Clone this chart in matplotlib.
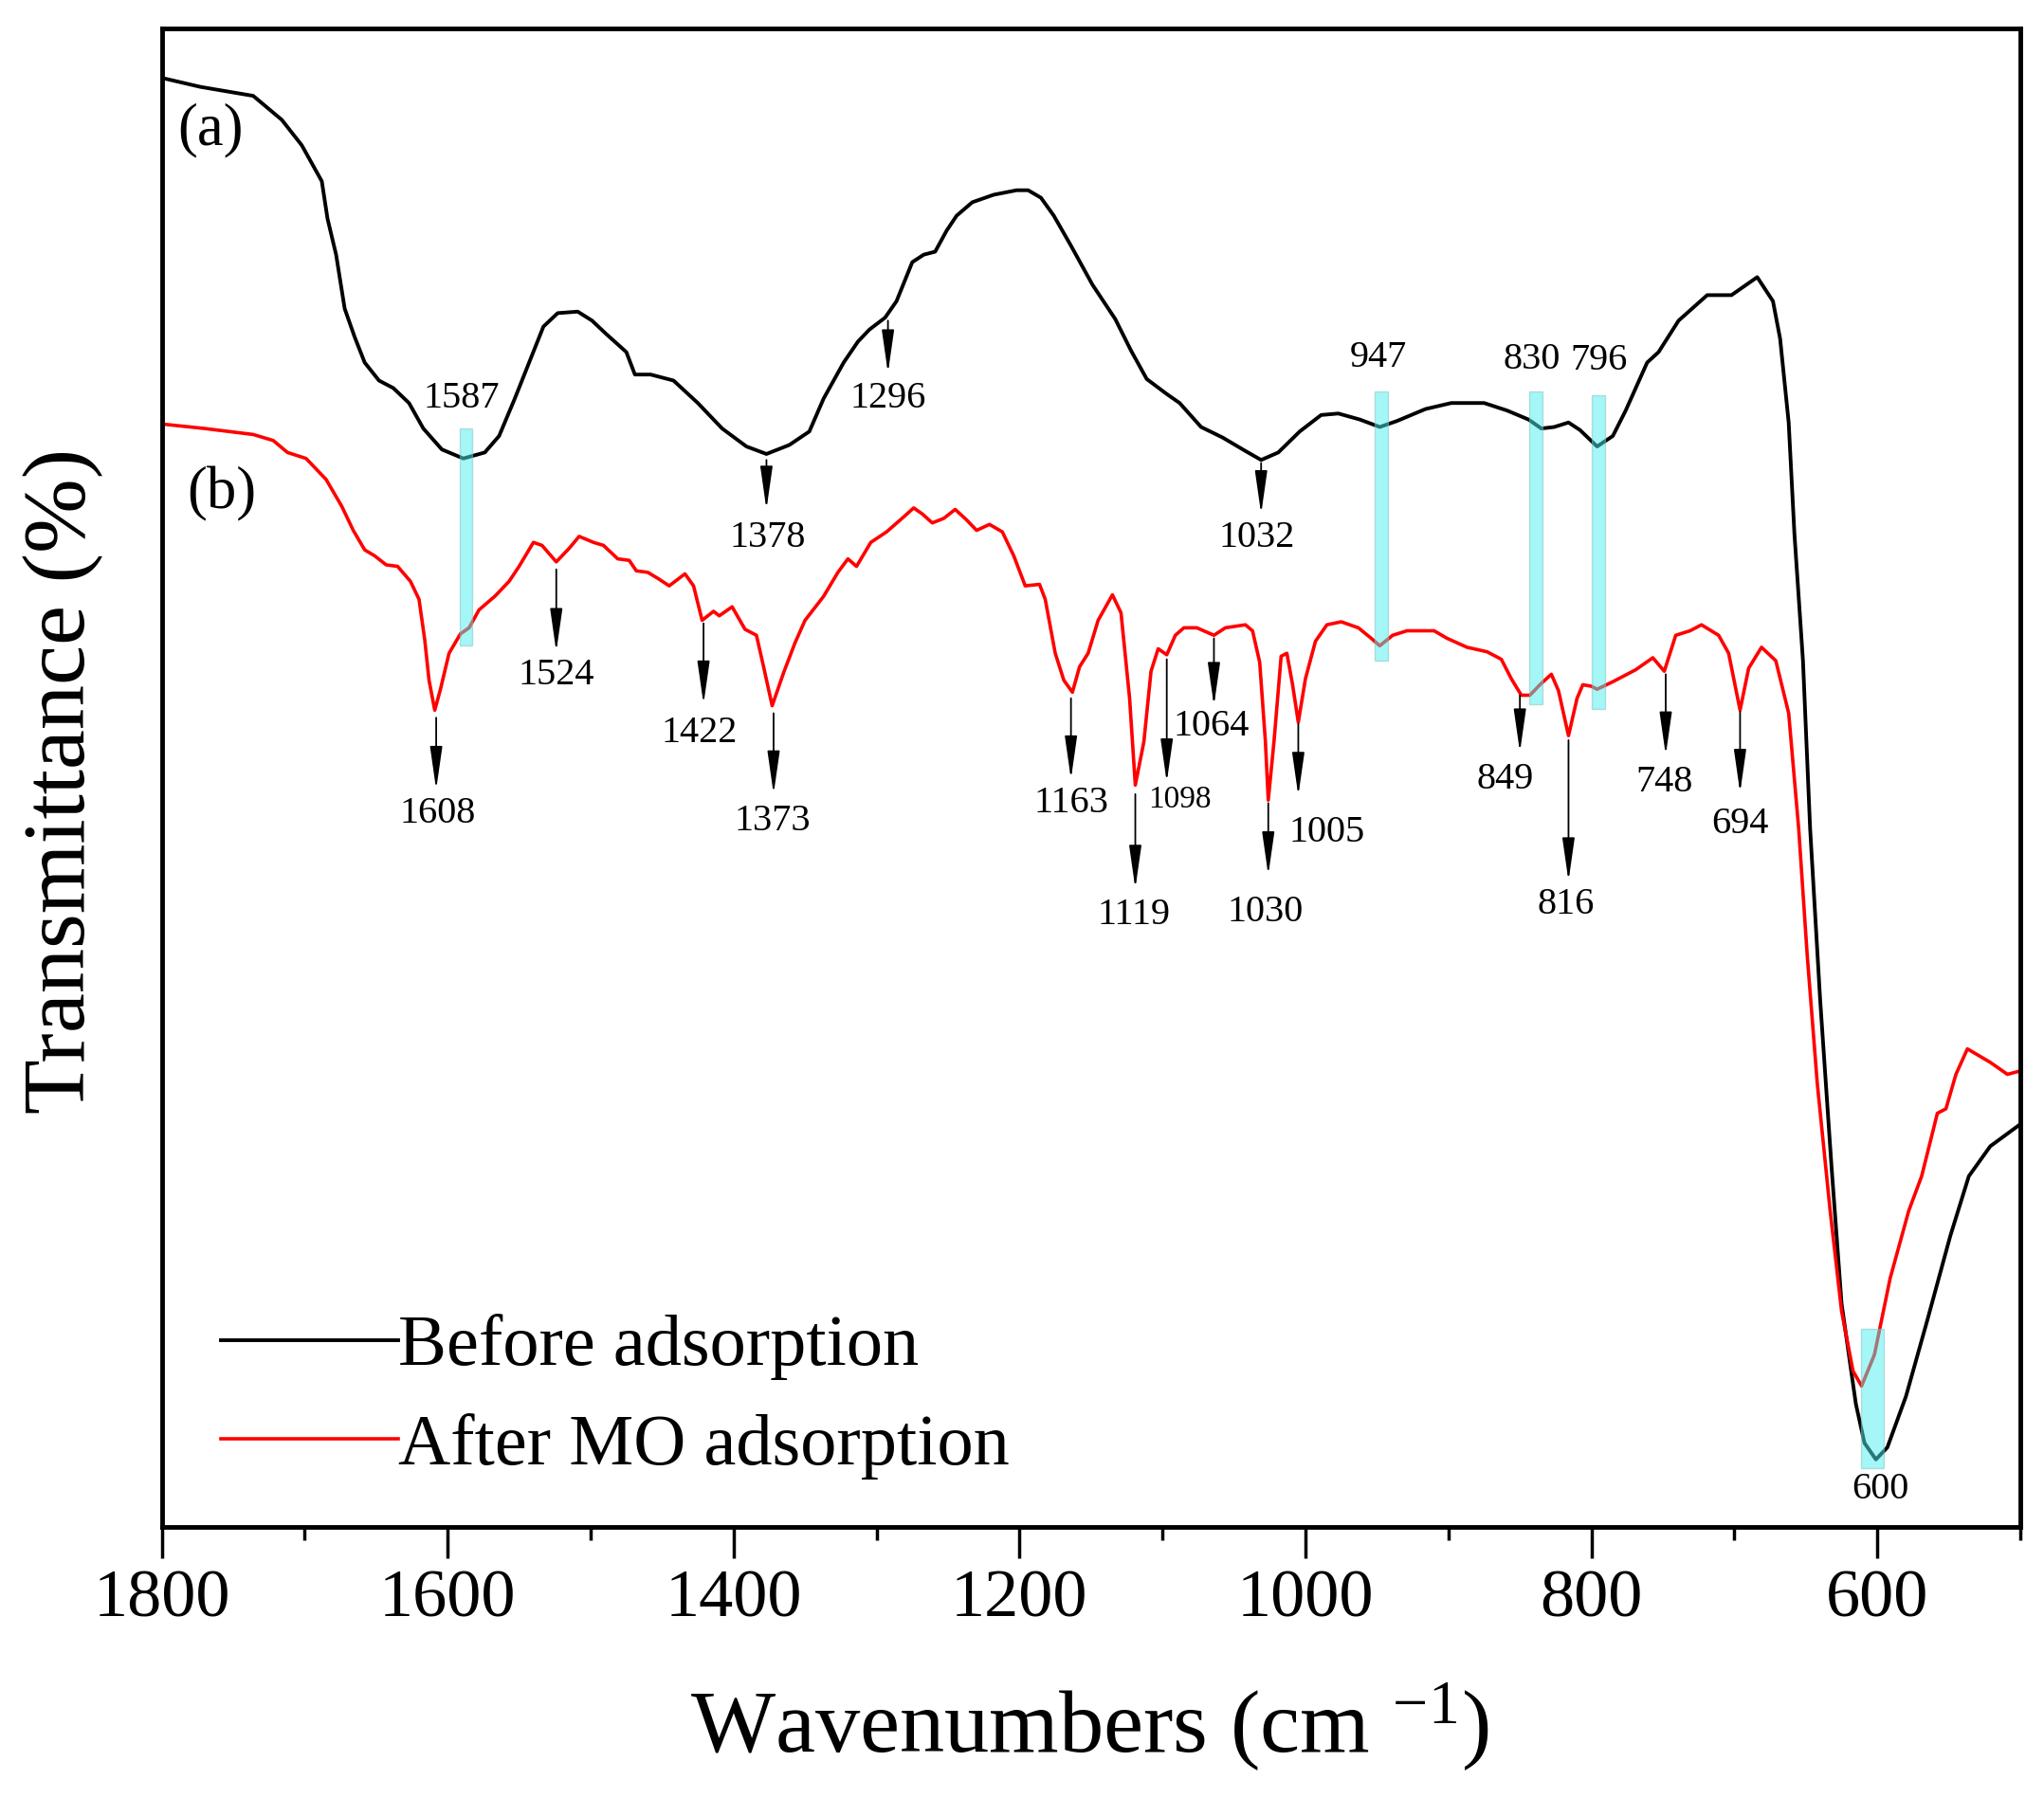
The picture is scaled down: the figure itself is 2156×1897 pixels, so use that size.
import matplotlib
matplotlib.use('Agg')
import matplotlib.pyplot as plt

plt.rcParams['font.family'] = 'Liberation Serif'
plt.rcParams['mathtext.fontset'] = 'custom'
plt.rcParams['mathtext.rm'] = 'Liberation Serif'
plt.rcParams['mathtext.it'] = 'Liberation Serif:italic'

# (a) before adsorption
wn_a = [1800, 1773, 1736, 1716, 1702, 1688, 1684, 1678, 1672, 1665, 1658, 1648, 1638, 1627, 1617, 1604,
        1589, 1574, 1564, 1553, 1543, 1533, 1523, 1509, 1499, 1489, 1475, 1469, 1458, 1442, 1425, 1408,
        1391, 1377, 1361, 1347, 1337, 1323, 1313, 1305, 1294, 1286, 1275, 1267, 1259, 1251, 1244, 1233,
        1218, 1202, 1194, 1185, 1176, 1164, 1149, 1133, 1122, 1111, 1097, 1088, 1073, 1058, 1042, 1031,
        1019, 1004, 989, 977, 962, 948, 936, 916, 898, 875, 859, 844, 835, 826, 816, 808, 796, 785, 776,
        761, 753, 739, 719, 702, 684, 673, 668, 662, 658, 652, 647, 640, 632, 625, 615, 609, 601, 593,
        580, 565, 549, 536, 521, 501]
t_a = [96.7, 96.1, 95.5, 93.9, 92.2, 89.8, 87.3, 84.9, 81.3, 79.4, 77.7, 76.5, 76.0, 75.0, 73.3, 71.9,
       71.3, 71.7, 72.8, 75.3, 77.7, 80.1, 81.0, 81.1, 80.5, 79.6, 78.4, 76.9, 76.9, 76.5, 75.0, 73.3,
       72.1, 71.6, 72.2, 73.1, 75.3, 77.7, 79.1, 79.9, 80.7, 81.8, 84.4, 84.9, 85.1, 86.5, 87.5, 88.4,
       88.9, 89.2, 89.2, 88.7, 87.5, 85.5, 82.9, 80.6, 78.5, 76.6, 75.6, 75.0, 73.4, 72.7, 71.8, 71.2,
       71.7, 73.1, 74.2, 74.3, 73.9, 73.4, 73.8, 74.6, 75.0, 75.0, 74.5, 73.9, 73.3, 73.4, 73.7, 73.2,
       72.1, 72.8, 74.5, 77.7, 78.4, 80.5, 82.2, 82.2, 83.4, 81.8, 79.3, 73.7, 66.3, 57.8, 46.6, 35.2,
       24.0, 14.9, 8.2, 5.6, 4.5, 5.3, 8.7, 13.8, 19.4, 23.4, 25.4, 26.8]

# (b) after MO adsorption
wn_b = [1800, 1770, 1753, 1736, 1722, 1712, 1699, 1685, 1674, 1666, 1658, 1651, 1643, 1635, 1626, 1620,
        1616, 1613, 1609, 1605, 1599, 1591, 1585, 1578, 1567, 1557, 1550, 1540, 1534, 1524, 1515, 1508,
        1498, 1491, 1481, 1473, 1468, 1460, 1453, 1445, 1434, 1428, 1422, 1414, 1410, 1401, 1392, 1384,
        1379, 1373, 1365, 1357, 1350, 1337, 1327, 1320, 1314, 1304, 1293, 1281, 1274, 1268, 1261, 1253,
        1245, 1237, 1230, 1221, 1212, 1204, 1196, 1186, 1182, 1175, 1169, 1163, 1158, 1152, 1145, 1135,
        1129, 1123, 1119, 1113, 1108, 1103, 1097, 1091, 1085, 1076, 1064, 1056, 1042, 1037, 1032, 1028,
        1026, 1022, 1017, 1013, 1009, 1005, 1000, 993, 985, 975, 963, 954, 948, 939, 929, 910, 901, 887,
        873, 863, 856, 849, 843, 836, 828, 823, 816, 810, 806, 800, 796, 785, 769, 757, 749, 741, 731,
        723, 711, 704, 696, 690, 681, 671, 662, 655, 649, 642, 633, 625, 617, 611, 602, 591, 578, 569,
        558, 552, 545, 537, 521, 509, 501]
t_b = [73.6, 73.3, 73.1, 72.9, 72.5, 71.7, 71.3, 69.9, 68.1, 66.5, 65.2, 64.8, 64.2, 64.1, 63.1, 61.9,
       59.2, 56.5, 54.5, 55.9, 58.3, 59.6, 60.0, 61.2, 62.1, 63.1, 64.1, 65.7, 65.5, 64.4, 65.3, 66.1,
       65.7, 65.5, 64.6, 64.5, 63.8, 63.7, 63.3, 62.8, 63.6, 62.8, 60.5, 61.1, 60.8, 61.4, 59.9, 59.5,
       57.4, 54.8, 57.0, 59.0, 60.5, 62.1, 63.7, 64.6, 64.1, 65.7, 66.4, 67.4, 68.0, 67.6, 67.0, 67.3,
       67.9, 67.2, 66.5, 66.9, 66.4, 64.8, 62.8, 62.9, 61.9, 58.3, 56.5, 55.7, 57.4, 58.3, 60.5, 62.2,
       61.0, 55.3, 49.5, 52.4, 57.1, 58.6, 58.2, 59.5, 60.0, 60.0, 59.5, 60.0, 60.2, 59.8, 57.7, 52.4,
       48.5, 52.4, 58.1, 58.3, 56.2, 53.7, 56.6, 59.1, 60.2, 60.4, 60.0, 59.3, 58.8, 59.5, 59.8, 59.8,
       59.3, 58.7, 58.4, 57.9, 56.6, 55.5, 55.5, 56.2, 56.9, 55.8, 52.8, 55.3, 56.2, 56.1, 55.9, 56.4,
       57.2, 58.0, 57.1, 59.5, 59.8, 60.2, 59.5, 58.3, 54.5, 57.3, 58.7, 57.8, 54.3, 46.6, 38.1, 29.6,
       21.1, 14.4, 10.4, 9.4, 11.5, 16.6, 21.1, 23.4, 27.6, 27.9, 30.2, 31.9, 31.0, 30.2, 30.4]

# peak arrows: label, arrow x, arrow start, arrow tip, label x, label y
peaks_a = ['1378', '1296', '1032']
arr_a_x = [1377, 1292, 1031]
arr_a_from = [71.2, 80.5, 71.0]
arr_a_to = [67.9, 77.0, 67.6]
lab_a_x = [1376, 1292, 1034]
lab_a_y = [66.0, 75.3, 66.0]

peaks_b = ['1608', '1524', '1422', '1373', '1163', '1119', '1098', '1064', '1030', '1005',
           '849', '816', '748', '694']
arr_b_x = [1608, 1524, 1421, 1372, 1164, 1119, 1097, 1064, 1026, 1005, 850, 816, 748, 696]
arr_b_from = [54.0, 63.9, 60.3, 54.3, 55.3, 48.9, 57.9, 59.3, 48.3, 53.6, 55.5, 52.5, 56.9, 54.4]
arr_b_to = [49.2, 58.4, 54.9, 48.9, 49.9, 42.6, 49.7, 54.8, 43.5, 48.8, 51.7, 43.1, 51.5, 49.0]
lab_b_x = [1607, 1524, 1424, 1373, 1164, 1120, 1088, 1066, 1028, 985, 860, 818, 749, 696]
lab_b_y = [47.6, 56.8, 53.0, 47.1, 48.3, 40.8, 48.5, 53.4, 41.0, 46.3, 49.9, 41.5, 49.7, 46.9]

# highlighted bands (shared peaks)
band_names = ['1587', '947', '830', '796', '600']
band_hi = [1591.4, 951.5, 843.4, 799.7, 611.3]
band_lo = [1582.8, 942.2, 834.2, 790.4, 595.4]
band_bot = [58.8, 57.8, 54.9, 54.6, 3.9]
band_top = [73.3, 75.8, 75.8, 75.5, 13.2]
band_lab_x = [1590, 949, 842, 795, 598]
band_lab_y = [75.3, 78.0, 77.9, 77.8, 2.5]

fig = plt.figure(figsize=(21.56, 18.97), dpi=100)
ax = fig.add_axes([0.0791, 0.1508, 0.9093, 0.8334])

ax.plot(wn_a, t_a, color='black', lw=2.8, solid_joinstyle='round', label='Before adsorption')
ax.plot(wn_b, t_b, color='red', lw=2.6, solid_joinstyle='round', label='After MO adsorption')

for i in range(len(band_names)):
    ax.bar((band_hi[i] + band_lo[i]) / 2, band_top[i] - band_bot[i], width=band_hi[i] - band_lo[i],
           bottom=band_bot[i], color='#4cf0f0', alpha=0.5, edgecolor='#80c0c0', linewidth=1, zorder=3)
    ax.text(band_lab_x[i], band_lab_y[i], band_names[i], ha='center', va='center', fontsize=29)

arrow_style = dict(arrowstyle='-|>,head_length=1.4,head_width=0.2', color='black', lw=1.3,
                   shrinkA=0, shrinkB=0, mutation_scale=20)
for i in range(len(peaks_a)):
    ax.annotate('', xy=(arr_a_x[i], arr_a_to[i]), xytext=(arr_a_x[i], arr_a_from[i]), arrowprops=arrow_style)
    ax.text(lab_a_x[i], lab_a_y[i], peaks_a[i], ha='center', va='center', fontsize=29)
for i in range(len(peaks_b)):
    ax.annotate('', xy=(arr_b_x[i], arr_b_to[i]), xytext=(arr_b_x[i], arr_b_from[i]), arrowprops=arrow_style)
    fs = 24 if peaks_b[i] == '1098' else 29
    ax.text(lab_b_x[i], lab_b_y[i], peaks_b[i], ha='center', va='center', fontsize=fs)

ax.text(1766, 93.2, '(a)', ha='center', va='center', fontsize=45)
ax.text(1758, 68.9, '(b)', ha='center', va='center', fontsize=45)

ax.set_xlim(1800, 500)
ax.set_ylim(0, 100)
ax.set_xticks([1800, 1600, 1400, 1200, 1000, 800, 600])
ax.set_xticks([1700, 1500, 1300, 1100, 900, 700, 500], minor=True)
ax.set_yticks([])
ax.tick_params(axis='x', which='major', direction='out', length=24, width=2.5, labelsize=52, pad=8)
ax.tick_params(axis='x', which='minor', direction='out', length=10, width=2.5)
for s in ax.spines.values():
    s.set_linewidth(3.5)

ax.set_xlabel('Wavenumbers (cm $^{-1}$)', fontsize=68, va='center')
ax.xaxis.set_label_coords(0.499, -0.134)
ax.set_ylabel('Transmittance (%)', fontsize=68, va='center')
ax.yaxis.set_label_coords(-0.053, 0.498)

ax.legend(loc='upper left', bbox_to_anchor=(0.032, 0.142), frameon=False, fontsize=55,
          handlelength=2.45, handletextpad=0.0, labelspacing=0.45, borderaxespad=0, borderpad=0)

fig.savefig('out.png', dpi=100)
